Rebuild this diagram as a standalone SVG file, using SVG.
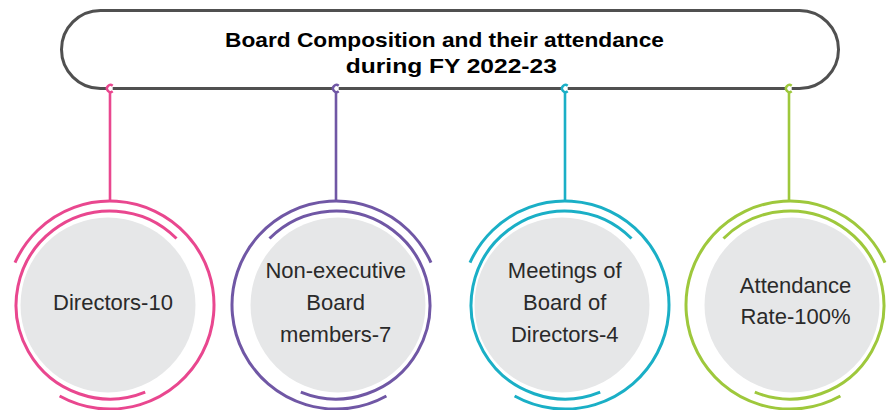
<svg xmlns="http://www.w3.org/2000/svg" width="896" height="410" viewBox="0 0 896 410">
<style>
.hdr{fill:#fff;stroke:#505050;stroke-width:3}
.ttl{font-family:"Liberation Sans",Arial,sans-serif;font-weight:bold;font-size:21px;fill:#000;text-anchor:middle}
.lbl{font-family:"Liberation Sans",Arial,sans-serif;font-size:22px;fill:#2a2a2a;text-anchor:middle}
.disc{fill:#e6e7e8}
.ring{fill:none;stroke-width:3;stroke-linecap:butt}
.stem{stroke-width:2.6;fill:none}
.pin{fill:#fff;stroke-width:2.4}
.pink{stroke:#e9478f}
.purple{stroke:#7057a5}
.teal{stroke:#1aafc6}
.green{stroke:#9ec83c}
</style>
<g id="header">
<rect class="hdr" x="61.5" y="10.5" width="777" height="78" rx="39" ry="39"/>
<text class="ttl" x="444.5" y="47" textLength="439" lengthAdjust="spacingAndGlyphs">Board Composition and their attendance</text>
<text class="ttl" x="451.3" y="73" textLength="211" lengthAdjust="spacingAndGlyphs">during FY 2022-23</text>
</g>
<g id="connectors">
<line class="stem pink" x1="110" y1="92" x2="110" y2="201"/>
<path class="pin pink" d="M112.7,85.8 A3.5,3.5 0 1 0 112.7,91.2"/>
<line class="stem purple" x1="336" y1="92" x2="336" y2="201"/>
<path class="pin purple" d="M338.7,85.8 A3.5,3.5 0 1 0 338.7,91.2"/>
<line class="stem teal" x1="565" y1="92" x2="565" y2="201"/>
<path class="pin teal" d="M567.7,85.8 A3.5,3.5 0 1 0 567.7,91.2"/>
<line class="stem green" x1="789" y1="92" x2="789" y2="201"/>
<path class="pin green" d="M791.7,85.8 A3.5,3.5 0 1 0 791.7,91.2"/>
</g>
<g id="node-directors">
<circle class="disc" cx="108" cy="305" r="87.5"/>
<path class="ring pink" d="M15,262.7 A104,104 0 1 1 59.6,396"/>
<path class="ring pink" d="M176.5,238.5 A94,94 0 1 0 145.2,392.2"/>
<text class="lbl" x="113" y="310">Directors-10</text>
</g>
<g id="node-nonexec">
<circle class="disc" cx="338" cy="305" r="87.5"/>
<path class="ring purple" d="M431,262.7 A104,104 0 1 0 386.4,396"/>
<path class="ring purple" d="M269.5,238.5 A94,94 0 1 1 300.8,392.2"/>
<text class="lbl" x="335.7" y="277.5">Non-executive</text>
<text class="lbl" x="335.7" y="309.5">Board</text>
<text class="lbl" x="335.7" y="341.5">members-7</text>
</g>
<g id="node-meetings">
<circle class="disc" cx="562" cy="305" r="87.5"/>
<path class="ring teal" d="M470,262.7 A104,104 0 1 1 514.6,396"/>
<path class="ring teal" d="M631.5,238.5 A94,94 0 1 0 600.2,392.2"/>
<text class="lbl" x="564.7" y="277.5">Meetings of</text>
<text class="lbl" x="564.7" y="309.5">Board of</text>
<text class="lbl" x="564.7" y="341.5">Directors-4</text>
</g>
<g id="node-attendance">
<circle class="disc" cx="792" cy="305" r="87.5"/>
<path class="ring green" d="M885,262.7 A104,104 0 1 0 840.4,396"/>
<path class="ring green" d="M723.5,238.5 A94,94 0 1 1 754.8,392.2"/>
<text class="lbl" x="795.5" y="293">Attendance</text>
<text class="lbl" x="795.5" y="324">Rate-100%</text>
</g>
</svg>
